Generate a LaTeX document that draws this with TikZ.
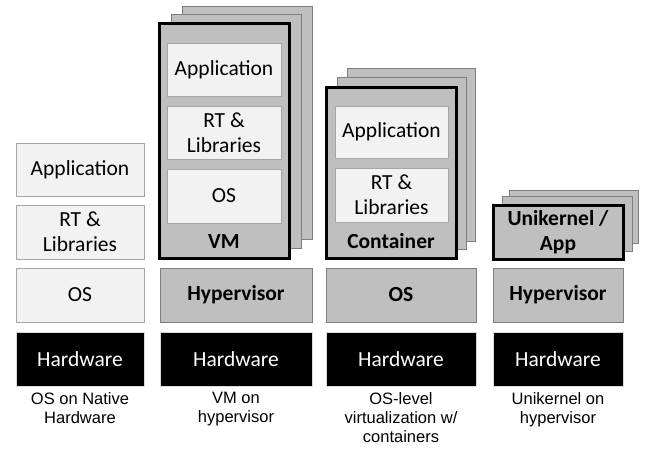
\documentclass[tikz,border=0pt]{standalone}
\usepackage{fontspec}
\setmainfont{Carlito}
\newfontfamily\labelfont{Liberation Sans}
\definecolor{lightfill}{HTML}{F2F2F2}
\definecolor{lightdraw}{HTML}{A6A6A6}
\definecolor{grayfill}{HTML}{BFBFBF}
\definecolor{graydraw}{HTML}{7F7F7F}
\definecolor{hwdraw}{HTML}{D9D9D9}
\tikzset{
  base/.style={rectangle, inner sep=0pt, outer sep=0pt, align=center,
    font=\fontsize{21.5}{25}\selectfont, line width=1pt},
  lightbox/.style={base, fill=lightfill, draw=lightdraw},
  graybox/.style={base, fill=grayfill, draw=graydraw,
    font=\fontsize{21.5}{25}\selectfont\bfseries},
  hwbox/.style={base, fill=black, draw=hwdraw, text=white},
  backbox/.style={base, fill=grayfill, draw=graydraw},
  frontbox/.style={base, fill=grayfill, draw=black, line width=3pt,
    font=\fontsize{21.5}{25}\selectfont\bfseries},
  tag/.style={font=\fontsize{21.5}{25}\selectfont\bfseries, inner sep=0pt},
  caption/.style={align=center, anchor=north, inner sep=0pt,
    font=\labelfont\fontsize{16.5}{19}\selectfont}
}
\newcommand\boxat[7]{\node[#1, minimum width={(#5-#3)*1pt}, minimum height={(#6-#4)*1pt}]
  (#2) at ({(#3+#5)/2},{(#4+#6)/2}) {#7};}
\begin{document}
\begin{tikzpicture}[x=1pt,y=-1pt]
\useasboundingbox (0,0) rectangle (649,450);
% Column 1: OS on native hardware
\boxat{lightbox}{app1}{16}{143}{144}{196}{Application}
\boxat{lightbox}{rt1}{16}{205}{144}{259}{RT \&\\Libraries}
\boxat{lightbox}{os1}{16}{268}{144}{322}{OS}
\boxat{hwbox}{hw1}{16}{332}{144}{386}{Hardware}
\node[caption] (cap1) at (80,392) {OS on Native\\Hardware};
% Column 2: VM on hypervisor
\boxat{backbox}{vmb3}{182}{6}{312}{239}{}
\boxat{backbox}{vmb2}{171}{14}{301}{248}{}
\boxat{frontbox}{vmf}{159}{23}{289}{258}{}
\boxat{lightbox}{app2}{167}{43}{281}{96}{Application}
\boxat{lightbox}{rt2}{167}{106}{281}{159}{RT \&\\Libraries}
\boxat{lightbox}{os2}{167}{169}{281}{223}{OS}
\node[tag] (vmtag) at (224,242) {VM};
\boxat{graybox}{hyp2}{160}{268}{312}{322}{Hypervisor}
\boxat{hwbox}{hw2}{160}{332}{312}{386}{Hardware}
\node[caption] (cap2) at (236,392) {VM on\\hypervisor};
% Column 3: OS-level virtualization
\boxat{backbox}{ctb3}{347}{68}{475}{241}{}
\boxat{backbox}{ctb2}{337}{77}{466}{249}{}
\boxat{frontbox}{ctf}{326}{87}{456}{258}{}
\boxat{lightbox}{app3}{335}{106}{448}{158}{Application}
\boxat{lightbox}{rt3}{335}{168}{448}{222}{RT \&\\Libraries}
\node[tag] (cttag) at (391,241) {Container};
\boxat{graybox}{os3}{326}{268}{476}{322}{OS}
\boxat{hwbox}{hw3}{326}{332}{476}{386}{Hardware}
\node[caption] (cap3) at (401,392) {OS-level\\virtualization w/\\containers};
% Column 4: Unikernel on hypervisor
\boxat{backbox}{ukb3}{509}{190}{638}{243}{}
\boxat{backbox}{ukb2}{502}{196}{632}{251}{}
\boxat{frontbox}{ukf}{493}{205}{623}{259}{Unikernel /\\App}
\boxat{graybox}{hyp4}{493}{268}{623}{322}{Hypervisor}
\boxat{hwbox}{hw4}{493}{332}{623}{386}{Hardware}
\node[caption] (cap4) at (558,392) {Unikernel on\\hypervisor};
\end{tikzpicture}
\end{document}
